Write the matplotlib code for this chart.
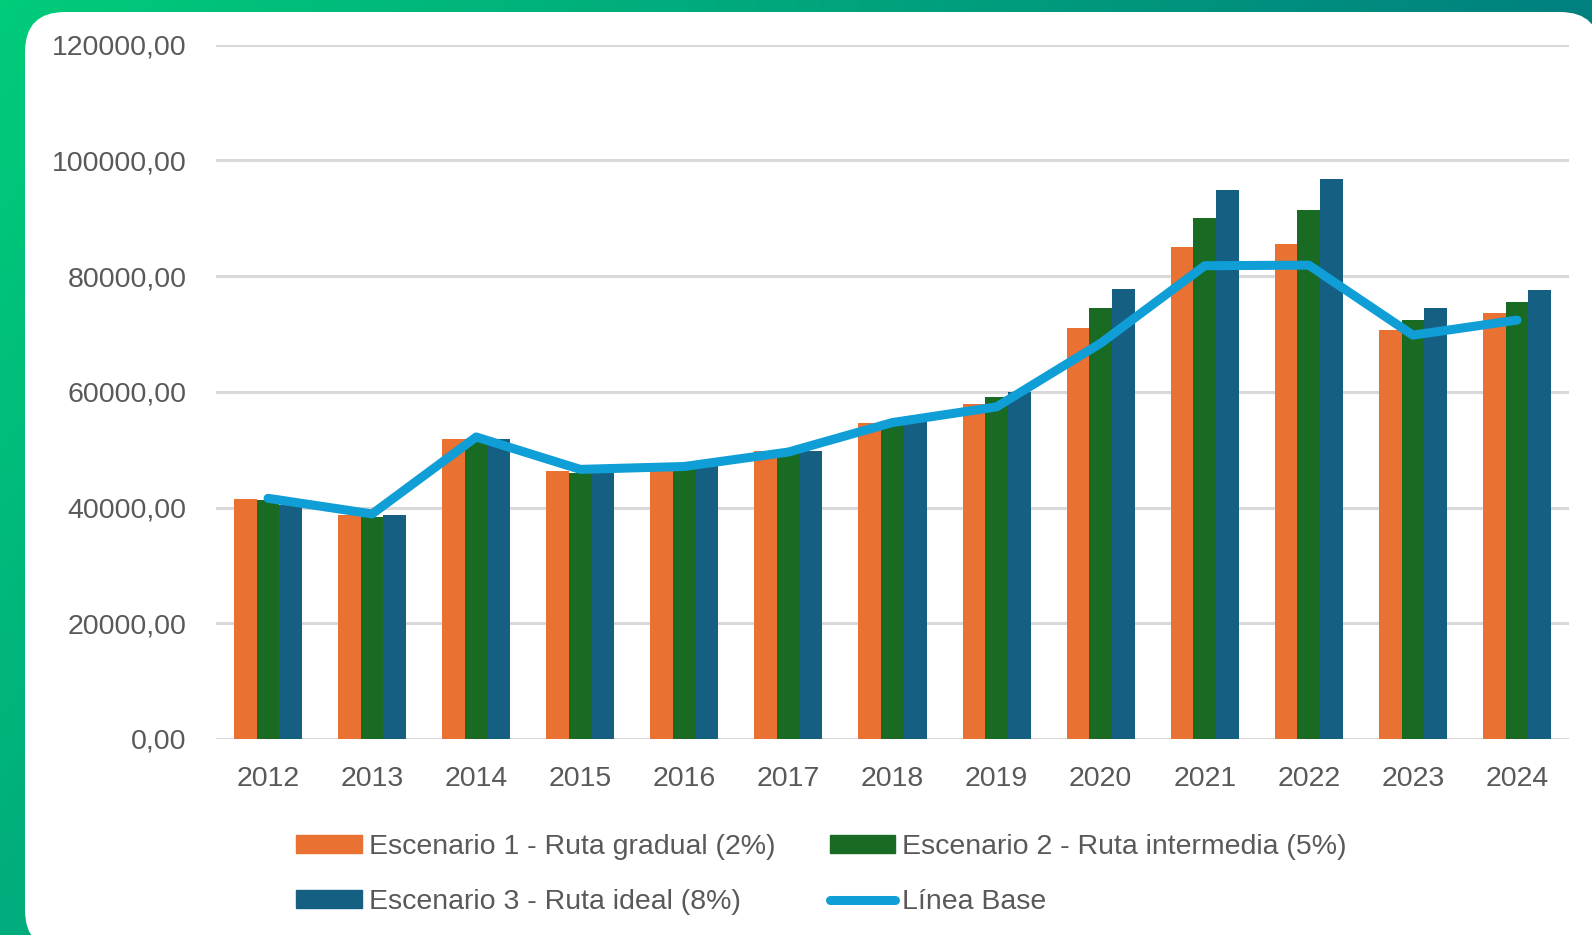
import numpy as np
import matplotlib.pyplot as plt
from matplotlib.patches import FancyBboxPatch
from matplotlib.lines import Line2D
from matplotlib.patches import Patch

plt.rcParams['font.family'] = ['Liberation Sans', 'DejaVu Sans']

years = ['2012', '2013', '2014', '2015', '2016', '2017', '2018',
         '2019', '2020', '2021', '2022', '2023', '2024']
escenario_1 = [41400, 38700, 51800, 46300, 46500, 49800, 54700,
               57900, 71000, 85000, 85500, 70700, 73600]
escenario_2 = [41300, 38400, 51800, 46000, 47000, 49800, 54600,
               59100, 74500, 90000, 91400, 72400, 75600]
escenario_3 = [40500, 38700, 51800, 46000, 47200, 49800, 54900,
               59900, 77700, 94900, 96800, 74500, 77600]
linea_base = [41600, 38900, 52200, 46600, 47100, 49600, 54700,
              57400, 68400, 81800, 81900, 69800, 72400]
labels = ['Escenario 1 - Ruta gradual (2%)',
          'Escenario 2 - Ruta intermedia (5%)',
          'Escenario 3 - Ruta ideal (8%)',
          'Línea Base']

c_orange = '#E97132'
c_green = '#196B24'
c_blue = '#156082'
c_line = '#0F9ED5'
c_text = '#595959'

W, H = 1592, 935
fig = plt.figure(figsize=(W / 100, H / 100), dpi=100)

# background: green gradient + white rounded panel
bg = fig.add_axes([0, 0, 1, 1])
bg.set_xlim(0, W)
bg.set_ylim(H, 0)
bg.axis('off')
gx, gy = np.meshgrid(np.linspace(0, 1, 200), np.linspace(0, 1, 120))
t = np.clip(0.85 * gx + 0.35 * gy, 0, 1)[..., None]
c0 = np.array([0, 204, 122]) / 255
c1 = np.array([0, 115, 128]) / 255
bg.imshow(c0 * (1 - t) + c1 * t, extent=[0, W, H, 0], aspect='auto')
bg.add_patch(FancyBboxPatch((25, 12), 1600 - 25, 950 - 12,
                            boxstyle='round,pad=0,rounding_size=40',
                            fc='white', ec='none'))

ax = fig.add_axes([216 / W, 1 - 739 / H, (1569 - 216) / W, (739 - 44.7) / H])
ax.set_facecolor('none')
x = np.arange(len(years))
w = 0.218
ax.bar(x - w, escenario_1, w, color=c_orange, zorder=2)
ax.bar(x, escenario_2, w, color=c_green, zorder=2)
ax.bar(x + w, escenario_3, w, color=c_blue, zorder=2)
ax.plot(x, linea_base, color=c_line, lw=6.5, solid_capstyle='round',
        solid_joinstyle='round', zorder=3)

ax.set_xlim(-0.5, len(years) - 0.5)
ax.set_ylim(0, 120000)
yt = np.arange(0, 120001, 20000)
ax.set_yticks(yt)
ax.set_yticklabels([f'{v:.2f}'.replace('.', ',') for v in yt])
ax.set_xticks(x)
ax.set_xticklabels(years)
ax.grid(axis='y', color='#D9D9D9', lw=2.2, zorder=0)
ax.set_axisbelow(True)
for s in ax.spines.values():
    s.set_visible(False)
ax.tick_params(axis='y', length=0, pad=21, labelsize=20.5, labelcolor=c_text)
ax.tick_params(axis='x', length=0, pad=19.5, labelsize=20.5, labelcolor=c_text)

handles = [Patch(color=c_orange), Patch(color=c_green), Patch(color=c_blue),
           Line2D([], [], color=c_line, lw=6.5, solid_capstyle='round')]
order = [0, 2, 1, 3]
fig.legend([handles[i] for i in order], [labels[i] for i in order],
           ncol=2, loc='center', bbox_to_anchor=(0.516, 0.0645), frameon=False,
           fontsize=20.5, labelcolor=c_text, handlelength=2.3, handleheight=0.62,
           handletextpad=0.25, columnspacing=1.9, labelspacing=1.02)

fig.savefig('out.png', dpi=100)
